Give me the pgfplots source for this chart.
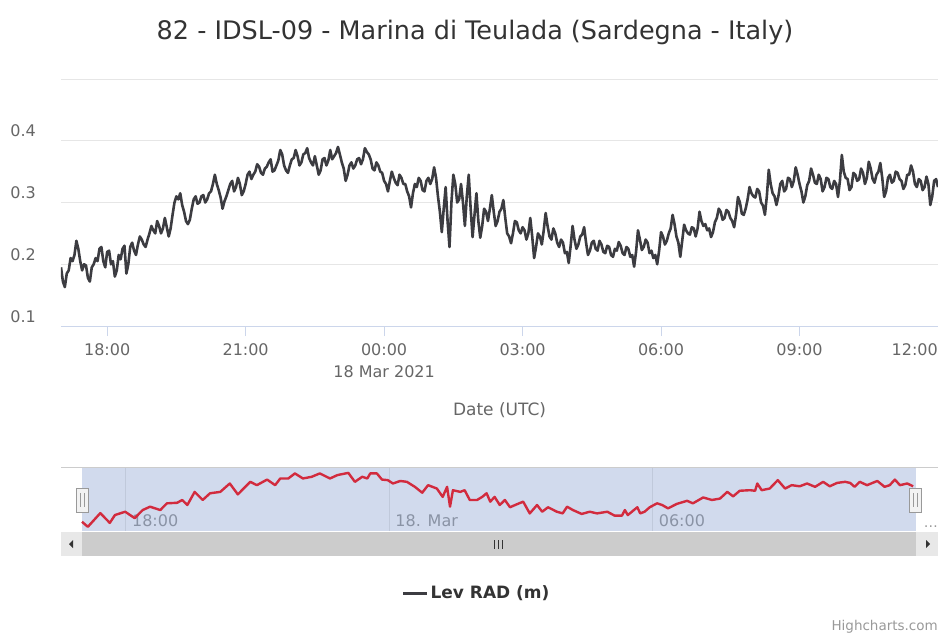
\documentclass[border=0pt]{standalone}
\usepackage{fontspec}
\setmainfont{DejaVu Sans}
\usepackage{pgfplots}
\pgfplotsset{compat=1.18}
\definecolor{titlegray}{HTML}{333333}
\definecolor{tickgray}{HTML}{666666}
\definecolor{gridgray}{HTML}{E6E6E6}
\definecolor{axisblue}{HTML}{CCD6EB}
\definecolor{serdark}{HTML}{3C3C41}
\definecolor{navred}{HTML}{D22B3E}
\definecolor{navmask}{HTML}{D1DAED}
\definecolor{navgrid}{HTML}{C0C9DB}
\definecolor{navlab}{HTML}{8A93A5}
\definecolor{credgray}{HTML}{999999}
\definecolor{sbthumb}{HTML}{CCCCCC}
\definecolor{sbbutton}{HTML}{E8E8E8}
\definecolor{handlefill}{HTML}{F2F2F2}
\begin{document}
\begin{tikzpicture}[x=1pt,y=1pt]
\useasboundingbox (0,0) rectangle (938,-635);
\node[anchor=base, inner sep=0pt, font=\fontsize{25.5}{30}\selectfont, text=titlegray] at (475,-39) {82 - IDSL-09 - Marina di Teulada (Sardegna - Italy)};

\begin{axis}[at={(61pt,-326pt)}, anchor=south west, scale only axis, width=877pt, height=247pt,
  xmin=-420, xmax=720, ymin=0.1, ymax=0.5,
  axis x line*=bottom, axis y line*=left,
  x axis line style={draw=axisblue, line width=1pt, -},
  y axis line style={draw=none},
  xtick={-360,-180,0,180,360,540},
  xticklabels={18:00,21:00,{00:00\\18 Mar 2021},03:00,06:00,09:00},
  extra x ticks={720}, extra x tick labels={12:00},
  extra x tick style={xticklabel style={anchor=north east}},
  xtick align=outside, major tick length=10pt,
  xtick style={draw=axisblue, line width=1pt},
  ytick={0.1,0.2,0.3,0.4,0.5}, yticklabels={0.1,0.2,0.3,0.4,{}},
  ymajorgrids, grid style={gridgray, line width=1pt},
  ytick style={draw=none},
  yticklabel style={anchor=base east, inner sep=0pt, xshift=-25pt, yshift=4pt, font=\fontsize{16}{19}\selectfont, text=tickgray},
  xticklabel style={anchor=north, inner sep=0pt, align=center, yshift=-7pt, font=\fontsize{16}{22}\selectfont, text=tickgray},
  xlabel={Date (UTC)},
  xlabel style={at={(axis description cs:0.5,-0.3603)}, anchor=base, inner sep=0pt, font=\fontsize{17}{20}\selectfont, text=tickgray},
  legend style={at={(axis description cs:0.4738,-1.081)}, anchor=center, draw=none, fill=none, font=\bfseries\fontsize{17}{20}\selectfont, text=titlegray},
  legend image code/.code={\draw[line width=3pt, serdark] (-6pt,0pt) -- (18pt,0pt);},
]
\addplot[serdark, line width=2.6pt, line join=round] coordinates {
(-420,0.195) (-417.5,0.172) (-415,0.163) (-412.5,0.185) (-410,0.19) (-407.5,0.21) (-405,0.205) (-402.5,0.215) (-400,0.238) (-397.5,0.225) (-395,0.205) (-392.5,0.19)
(-390,0.2) (-387.5,0.198) (-385,0.178) (-382.5,0.172) (-380,0.195) (-377.5,0.2) (-375,0.21) (-372.5,0.205) (-370,0.225) (-367.5,0.228) (-365,0.205) (-362.5,0.195)
(-360,0.22) (-357.5,0.222) (-355,0.2) (-352.5,0.205) (-350,0.18) (-347.5,0.19) (-345,0.215) (-342.5,0.208) (-340,0.225) (-337.5,0.23) (-335,0.185) (-332.5,0.2)
(-330,0.228) (-327.5,0.235) (-325,0.222) (-322.5,0.215) (-320,0.232) (-317.5,0.245) (-315,0.24) (-312.5,0.232) (-310,0.228) (-307.5,0.24) (-305,0.25) (-302.5,0.262)
(-300,0.255) (-297.5,0.25) (-295,0.27) (-292.5,0.262) (-290,0.25) (-287.5,0.258) (-285,0.275) (-282.5,0.26) (-280,0.245) (-277.5,0.258) (-275,0.28) (-272.5,0.3)
(-270,0.31) (-267.5,0.305) (-265,0.315) (-262.5,0.296) (-260,0.285) (-257.5,0.27) (-255,0.265) (-252.5,0.272) (-250,0.29) (-247.5,0.305) (-245,0.31) (-242.5,0.298)
(-240,0.3) (-237.5,0.31) (-235,0.312) (-232.5,0.3) (-230,0.305) (-227.5,0.315) (-225,0.318) (-222.5,0.33) (-220,0.345) (-217.5,0.33) (-215,0.32) (-212.5,0.308)
(-210,0.29) (-207.5,0.302) (-205,0.31) (-202.5,0.32) (-200,0.33) (-197.5,0.335) (-195,0.318) (-192.5,0.325) (-190,0.34) (-187.5,0.33) (-185,0.312) (-182.5,0.318)
(-180,0.33) (-177.5,0.345) (-175,0.35) (-172.5,0.338) (-170,0.345) (-167.5,0.35) (-165,0.362) (-162.5,0.358) (-160,0.348) (-157.5,0.345) (-155,0.355) (-152.5,0.358)
(-150,0.365) (-147.5,0.37) (-145,0.35) (-142.5,0.352) (-140,0.36) (-137.5,0.368) (-135,0.385) (-132.5,0.378) (-130,0.36) (-127.5,0.352) (-125,0.348) (-122.5,0.36)
(-120,0.37) (-117.5,0.372) (-115,0.385) (-112.5,0.375) (-110,0.36) (-107.5,0.365) (-105,0.378) (-102.5,0.38) (-100,0.388) (-97.5,0.372) (-95,0.365) (-92.5,0.36)
(-90,0.375) (-87.5,0.36) (-85,0.345) (-82.5,0.352) (-80,0.37) (-77.5,0.372) (-75,0.36) (-72.5,0.368) (-70,0.385) (-67.5,0.37) (-65,0.375) (-62.5,0.38)
(-60,0.39) (-57.5,0.378) (-55,0.365) (-52.5,0.355) (-50,0.335) (-47.5,0.345) (-45,0.36) (-42.5,0.365) (-40,0.355) (-37.5,0.36) (-35,0.37) (-32.5,0.372)
(-30,0.362) (-27.5,0.37) (-25,0.388) (-22.5,0.382) (-20,0.378) (-17.5,0.37) (-15,0.355) (-12.5,0.352) (-10,0.365) (-7.5,0.36) (-5,0.35) (-2.5,0.348)
(0,0.335) (2.5,0.33) (5,0.318) (7.5,0.335) (10,0.35) (12.5,0.34) (15,0.332) (17.5,0.328) (20,0.345) (22.5,0.34) (25,0.33) (27.5,0.33)
(30,0.318) (32.5,0.31) (35,0.292) (37.5,0.315) (40,0.33) (42.5,0.325) (45,0.34) (47.5,0.335) (50,0.32) (52.5,0.318) (55,0.335) (57.5,0.34)
(60,0.33) (62.5,0.338) (65,0.357) (67.5,0.34) (70,0.31) (72.5,0.285) (75,0.252) (77.5,0.29) (80,0.325) (82.5,0.27) (85,0.228) (87.5,0.3)
(90,0.345) (92.5,0.33) (95,0.3) (97.5,0.305) (100,0.33) (102.5,0.3) (105,0.262) (107.5,0.31) (110,0.345) (112.5,0.29) (115,0.244) (117.5,0.28)
(120,0.315) (122.5,0.27) (125,0.243) (127.5,0.262) (130,0.29) (132.5,0.285) (135,0.27) (137.5,0.29) (140,0.312) (142.5,0.285) (145,0.262) (147.5,0.27)
(150,0.285) (152.5,0.29) (155,0.304) (157.5,0.275) (160,0.25) (162.5,0.245) (165,0.234) (167.5,0.25) (170,0.27) (172.5,0.268) (175,0.255) (177.5,0.25)
(180,0.26) (182.5,0.255) (185,0.24) (187.5,0.25) (190,0.275) (192.5,0.245) (195,0.21) (197.5,0.228) (200,0.25) (202.5,0.245) (205,0.232) (207.5,0.255)
(210,0.283) (212.5,0.262) (215,0.245) (217.5,0.24) (220,0.258) (222.5,0.25) (225,0.235) (227.5,0.228) (230,0.24) (232.5,0.235) (235,0.218) (237.5,0.22)
(240,0.202) (242.5,0.23) (245,0.262) (247.5,0.24) (250,0.225) (252.5,0.232) (255,0.245) (257.5,0.248) (260,0.26) (262.5,0.235) (265,0.215) (267.5,0.222)
(270,0.235) (272.5,0.238) (275,0.225) (277.5,0.222) (280,0.238) (282.5,0.232) (285,0.22) (287.5,0.218) (290,0.23) (292.5,0.228) (295,0.215) (297.5,0.212)
(300,0.225) (302.5,0.222) (305,0.236) (307.5,0.23) (310,0.218) (312.5,0.215) (315,0.228) (317.5,0.225) (320,0.212) (322.5,0.215) (325,0.196) (327.5,0.22)
(330,0.255) (332.5,0.24) (335,0.223) (337.5,0.228) (340,0.24) (342.5,0.235) (345,0.218) (347.5,0.222) (350,0.21) (352.5,0.215) (355,0.2) (357.5,0.222)
(360,0.252) (362.5,0.245) (365,0.232) (367.5,0.238) (370,0.25) (372.5,0.258) (375,0.28) (377.5,0.265) (380,0.245) (382.5,0.235) (385,0.212) (387.5,0.238)
(390,0.264) (392.5,0.255) (395,0.25) (397.5,0.248) (400,0.26) (402.5,0.258) (405,0.245) (407.5,0.258) (410,0.285) (412.5,0.27) (415,0.262) (417.5,0.265)
(420,0.255) (422.5,0.258) (425,0.244) (427.5,0.252) (430,0.268) (432.5,0.275) (435,0.29) (437.5,0.285) (440,0.272) (442.5,0.275) (445,0.288) (447.5,0.285)
(450,0.275) (452.5,0.27) (455,0.26) (457.5,0.28) (460,0.309) (462.5,0.3) (465,0.282) (467.5,0.28) (470,0.29) (472.5,0.305) (475,0.325) (477.5,0.315)
(480,0.31) (482.5,0.308) (485,0.322) (487.5,0.318) (490,0.3) (492.5,0.295) (495,0.28) (497.5,0.31) (500,0.353) (502.5,0.33) (505,0.315) (507.5,0.31)
(510,0.296) (512.5,0.31) (515,0.33) (517.5,0.335) (520,0.318) (522.5,0.322) (525,0.34) (527.5,0.338) (530,0.325) (532.5,0.335) (535,0.357) (537.5,0.345)
(540,0.33) (542.5,0.318) (545,0.3) (547.5,0.31) (550,0.328) (552.5,0.335) (555,0.355) (557.5,0.345) (560,0.332) (562.5,0.33) (565,0.345) (567.5,0.338)
(570,0.318) (572.5,0.325) (575,0.34) (577.5,0.338) (580,0.325) (582.5,0.322) (585,0.335) (587.5,0.33) (590,0.309) (592.5,0.335) (595,0.377) (597.5,0.35)
(600,0.34) (602.5,0.338) (605,0.32) (607.5,0.325) (610,0.348) (612.5,0.345) (615,0.335) (617.5,0.338) (620,0.355) (622.5,0.348) (625,0.33) (627.5,0.34)
(630,0.366) (632.5,0.355) (635,0.338) (637.5,0.332) (640,0.345) (642.5,0.35) (645,0.364) (647.5,0.34) (650,0.309) (652.5,0.318) (655,0.34) (657.5,0.345)
(660,0.332) (662.5,0.335) (665,0.35) (667.5,0.348) (670,0.338) (672.5,0.335) (675,0.322) (677.5,0.328) (680,0.345) (682.5,0.345) (685,0.36) (687.5,0.35)
(690,0.33) (692.5,0.325) (695,0.338) (697.5,0.335) (700,0.32) (702.5,0.325) (705,0.342) (707.5,0.33) (710,0.296) (712.5,0.31) (715,0.335) (717.5,0.338) (720,0.325)
};
\addlegendentry{Lev RAD (m)}
\end{axis}

\begin{axis}[at={(61pt,-531pt)}, anchor=south west, scale only axis, width=877pt, height=64pt,
  xmin=-448.7, xmax=750, ymin=0.161, ymax=0.39, hide axis, clip=false]
\fill[navmask] (axis cs:-420,0.161) rectangle (axis cs:720,0.39);
\draw[navgrid, line width=1pt] (axis cs:-360,0.161) -- (axis cs:-360,0.39);
\draw[navgrid, line width=1pt] (axis cs:0,0.161) -- (axis cs:0,0.39);
\draw[navgrid, line width=1pt] (axis cs:360,0.161) -- (axis cs:360,0.39);
\node[anchor=base west, inner sep=0pt, xshift=6pt, yshift=5pt, text=navlab, font=\fontsize{16}{19}\selectfont] at (axis cs:-360,0.161) {18:00};
\node[anchor=base west, inner sep=0pt, xshift=6pt, yshift=5pt, text=navlab, font=\fontsize{16}{19}\selectfont] at (axis cs:0,0.161) {18. Mar};
\node[anchor=base west, inner sep=0pt, xshift=6pt, yshift=5pt, text=navlab, font=\fontsize{16}{19}\selectfont] at (axis cs:360,0.161) {06:00};
\addplot[navred, line width=2.4pt, line join=round] coordinates {
(-420,0.194) (-412,0.176) (-395,0.225) (-382,0.19) (-375,0.218) (-361,0.23) (-348,0.207) (-337,0.236) (-327,0.248) (-313,0.236)
(-304,0.26) (-290,0.262) (-283,0.272) (-276,0.254) (-266,0.301) (-255,0.272) (-245,0.296) (-231,0.301) (-218,0.331) (-207,0.292)
(-190,0.337) (-181,0.325) (-167,0.345) (-156,0.325) (-149,0.349) (-138,0.349) (-129,0.367) (-118,0.349) (-106,0.355) (-95,0.367)
(-81,0.349) (-71,0.361) (-56,0.369) (-47,0.337) (-37,0.355) (-30,0.349) (-26,0.367) (-17,0.367) (-10,0.345) (-2,0.343)
(5,0.331) (15,0.34) (24,0.337) (35,0.319) (45,0.298) (53,0.325) (65,0.313) (73,0.283) (79,0.319) (83,0.248)
(87,0.307) (97,0.301) (103,0.307) (110,0.272) (120,0.272) (127,0.283) (133,0.296) (138,0.266) (144,0.283) (151,0.254)
(158,0.272) (165,0.246) (172,0.254) (183,0.266) (192,0.224) (202,0.254) (209,0.23) (217,0.246) (229,0.23) (237,0.224)
(243,0.248) (251,0.236) (263,0.222) (274,0.23) (284,0.224) (298,0.23) (308,0.216) (318,0.216) (322,0.236) (326,0.218)
(339,0.246) (343,0.224) (349,0.23) (356,0.246) (366,0.26) (373,0.254) (381,0.242) (393,0.258) (407,0.269) (415,0.26)
(429,0.281) (441,0.272) (452,0.277) (462,0.301) (470,0.285) (479,0.305) (493,0.307) (500,0.305) (503,0.331) (509,0.307)
(520,0.313) (531,0.343) (541,0.313) (550,0.325) (561,0.321) (571,0.331) (582,0.319) (593,0.337) (602,0.321) (612,0.333)
(623,0.337) (630,0.333) (636,0.319) (643,0.337) (653,0.325) (667,0.34) (677,0.319) (684,0.325) (691,0.345) (698,0.325)
(708,0.331) (716,0.321)
};
\end{axis}

% navigator outline, handles, scrollbar
\draw[sbthumb, line width=1pt] (61,-467.5) -- (938,-467.5);
\node[anchor=base east, inner sep=0pt, text=credgray, font=\fontsize{14}{16}\selectfont] at (938,-527) {\ldots};
\fill[sbthumb] (61,-532) rectangle (938,-556);
\fill[sbbutton] (61,-532) rectangle (82,-556);
\fill[sbbutton] (916,-532) rectangle (938,-556);
\fill[titlegray] (69,-544) -- (73,-540) -- (73,-548) -- cycle;
\fill[titlegray] (926,-540) -- (930,-544) -- (926,-548) -- cycle;
\draw[titlegray, line width=1pt] (494,-540) -- (494,-549) (498,-540) -- (498,-549) (502,-540) -- (502,-549);
\filldraw[fill=handlefill, draw=credgray, line width=1pt] (76.5,-488) rectangle (88.5,-512);
\draw[credgray, line width=1pt] (80.5,-493) -- (80.5,-507) (84.5,-493) -- (84.5,-507);
\filldraw[fill=handlefill, draw=credgray, line width=1pt] (909.5,-488) rectangle (921.5,-512);
\draw[credgray, line width=1pt] (913.5,-493) -- (913.5,-507) (917.5,-493) -- (917.5,-507);

\node[anchor=base east, inner sep=0pt, text=credgray, font=\fontsize{13.5}{16}\selectfont] at (938,-630) {Highcharts.com};
\end{tikzpicture}
\end{document}
